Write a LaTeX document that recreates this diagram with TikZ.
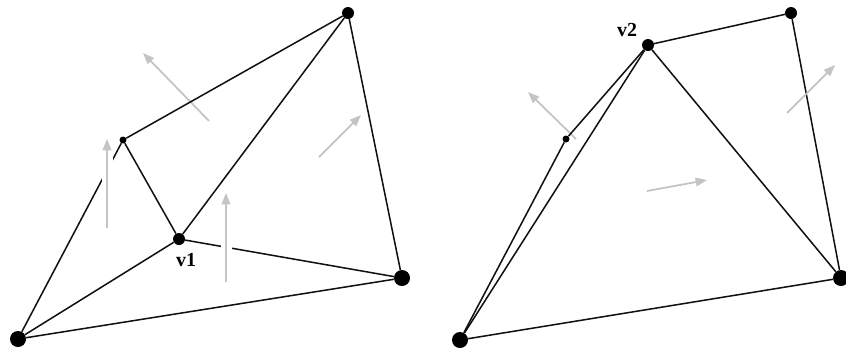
\documentclass[tikz,border=0pt]{standalone}
\usepackage{fontspec}
\setmainfont{Liberation Serif}
\usetikzlibrary{arrows.meta}
\definecolor{meshEdge}{HTML}{111111}
\definecolor{normalGray}{HTML}{C4C4C4}

\begin{document}
\begin{tikzpicture}[x=0.03cm, y=-0.03cm,
    bigDot/.style={circle, fill=black, inner sep=0pt, minimum size=0.48cm},
    midDot/.style={circle, fill=black, inner sep=0pt, minimum size=0.36cm},
    smallDot/.style={circle, fill=black, inner sep=0pt, minimum size=0.21cm},
    meshLine/.style={meshEdge, line width=1.3pt},
    normalArrow/.style={-{Triangle[length=0.34cm, width=0.26cm]}, normalGray, line width=1.5pt},
    haloArrow/.style={normalArrow, preaction={draw=white, line width=0.33cm, -}},
    vLabel/.style={font=\fontsize{17}{19}\selectfont\bfseries}]
        \useasboundingbox (0,0) rectangle (846,352);

        % Left mesh: vertices
        \node[bigDot] (aL) at (18,339) {};
        \node[midDot] (bL) at (348,13) {};
        \node[bigDot] (cL) at (402,278) {};
        \node[smallDot] (dL) at (123,140) {};
        \node[midDot] (vone) at (179,239) {};
        \node[vLabel] (lblvone) at (186,260) {v1};

        % Left mesh: normals behind the edges
        \draw[normalArrow] (209,121) -- (143,53);
        \draw[normalArrow] (319,157) -- (361,115);

        % Left mesh: edges
        \draw[meshLine] (aL) -- (dL) -- (bL) -- (cL) -- (aL);
        \draw[meshLine] (aL) -- (vone) -- (cL);
        \draw[meshLine] (dL) -- (vone) -- (bL);

        % Left mesh: normals in front, cutting the edges
        \draw[haloArrow] (107,228) -- (107,139);
        \draw[haloArrow] (226,282) -- (226,193);

        % Right mesh: vertices
        \node[bigDot] (aR) at (460,340) {};
        \node[midDot] (bR) at (791,13) {};
        \node[bigDot] (cR) at (841,278) {};
        \node[smallDot] (dR) at (566,139) {};
        \node[midDot] (vtwo) at (648,45) {};
        \node[vLabel] (lblvtwo) at (627,30) {v2};

        % Right mesh: normals
        \draw[normalArrow] (576,139) -- (528,92);
        \draw[normalArrow] (647,191) -- (707,180);

        % Right mesh: edges
        \draw[meshLine] (aR) -- (dR) -- (vtwo) -- (bR) -- (cR) -- (aR);
        \draw[meshLine] (aR) -- (vtwo) -- (cR);

        \draw[normalArrow] (787,113) -- (835,65);
      \end{tikzpicture}
\end{document}
